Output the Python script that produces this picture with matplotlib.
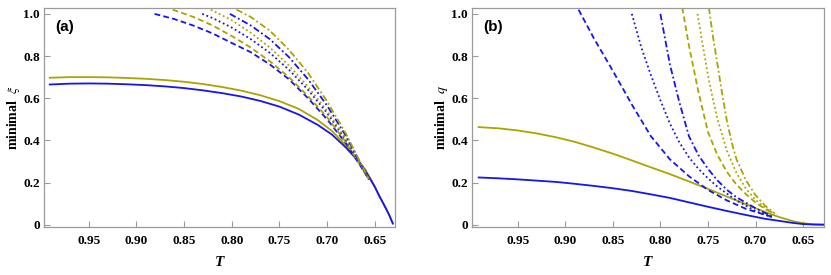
import matplotlib
matplotlib.use("Agg")
import matplotlib.pyplot as plt

# ---------------- data: panel (a) minimal xi ----------------
a_solid_T = [0.991, 0.97, 0.95, 0.93, 0.91, 0.89, 0.87, 0.85, 0.83, 0.81, 0.79, 0.77, 0.75,
             0.73, 0.71, 0.695, 0.68, 0.67, 0.66, 0.65, 0.645, 0.64, 0.635, 0.631]
a_yellow_solid = [0.697, 0.700, 0.700, 0.699, 0.696, 0.692, 0.686, 0.678, 0.667, 0.653, 0.636, 0.614, 0.586,
                  0.550, 0.497, 0.445, 0.375, 0.322, 0.262, 0.183, 0.136, 0.093, 0.048, 0.008]
a_blue_solid = [0.665, 0.669, 0.670, 0.669, 0.666, 0.662, 0.656, 0.648, 0.637, 0.624, 0.608, 0.587, 0.560,
                0.523, 0.474, 0.428, 0.365, 0.315, 0.257, 0.180, 0.134, 0.092, 0.048, 0.005]

a_blue_dashed_T = [0.881, 0.86, 0.84, 0.82, 0.80, 0.78, 0.76, 0.74, 0.72, 0.70, 0.68, 0.656]
a_blue_dashed = [1.0, 0.975, 0.944, 0.907, 0.862, 0.818, 0.76, 0.69, 0.60, 0.50, 0.385, 0.215]
a_yellow_dashed_T = [0.862, 0.84, 0.82, 0.80, 0.78, 0.76, 0.74, 0.72, 0.70, 0.68, 0.656]
a_yellow_dashed = [1.02, 0.985, 0.945, 0.895, 0.84, 0.775, 0.70, 0.61, 0.51, 0.39, 0.215]
a_blue_dotted_T = [0.831, 0.82, 0.80, 0.78, 0.76, 0.74, 0.72, 0.70, 0.68, 0.656]
a_blue_dotted = [1.0, 0.98, 0.935, 0.88, 0.815, 0.735, 0.64, 0.53, 0.40, 0.215]
a_yellow_dotted_T = [0.822, 0.80, 0.78, 0.76, 0.74, 0.72, 0.70, 0.68, 0.656]
a_yellow_dotted = [1.02, 0.97, 0.91, 0.84, 0.755, 0.655, 0.54, 0.405, 0.215]
a_blue_dashdot_T = [0.802, 0.78, 0.76, 0.74, 0.72, 0.70, 0.68, 0.656]
a_blue_dashdot = [1.0, 0.945, 0.88, 0.795, 0.69, 0.565, 0.42, 0.215]
a_yellow_dashdot_T = [0.795, 0.78, 0.76, 0.74, 0.72, 0.70, 0.68, 0.656]
a_yellow_dashdot = [1.02, 0.985, 0.92, 0.83, 0.72, 0.585, 0.43, 0.215]

# ---------------- data: panel (b) minimal q ----------------
b_solid_T = [0.991, 0.97, 0.95, 0.93, 0.91, 0.89, 0.87, 0.85, 0.83, 0.81, 0.79, 0.77, 0.75,
             0.73, 0.71, 0.69, 0.675, 0.66, 0.65, 0.64, 0.628]
b_yellow_solid = [0.463, 0.457, 0.447, 0.433, 0.415, 0.393, 0.366, 0.337, 0.305, 0.272, 0.240, 0.205, 0.170,
                  0.133, 0.097, 0.060, 0.036, 0.016, 0.007, 0.002, 0.0]
b_blue_solid = [0.224, 0.220, 0.215, 0.209, 0.203, 0.194, 0.184, 0.173, 0.160, 0.144, 0.127, 0.106, 0.085,
                0.065, 0.046, 0.028, 0.018, 0.008, 0.003, 0.001, 0.0]

b_blue_dashed_T = [0.886, 0.87, 0.85, 0.83, 0.81, 0.79, 0.77, 0.75, 0.73, 0.71, 0.69, 0.683]
b_blue_dashed = [1.02, 0.885, 0.73, 0.57, 0.42, 0.31, 0.23, 0.165, 0.115, 0.075, 0.047, 0.038]
b_blue_dotted_T = [0.83, 0.82, 0.81, 0.80, 0.79, 0.78, 0.77, 0.76, 0.75, 0.74, 0.72, 0.70, 0.683]
b_blue_dotted = [1.0, 0.84, 0.71, 0.59, 0.48, 0.39, 0.32, 0.265, 0.22, 0.18, 0.115, 0.065, 0.035]
b_blue_dashdot_T = [0.80, 0.79, 0.78, 0.77, 0.76, 0.75, 0.74, 0.73, 0.72, 0.70, 0.683]
b_blue_dashdot = [1.0, 0.76, 0.58, 0.42, 0.33, 0.265, 0.21, 0.165, 0.13, 0.078, 0.04]
b_yellow_dashed_T = [0.777, 0.77, 0.76, 0.75, 0.74, 0.73, 0.72, 0.71, 0.70, 0.69, 0.68]
b_yellow_dashed = [1.03, 0.85, 0.63, 0.44, 0.33, 0.25, 0.19, 0.145, 0.105, 0.075, 0.05]
b_yellow_dotted_T = [0.761, 0.755, 0.75, 0.745, 0.74, 0.73, 0.72, 0.71, 0.70, 0.69, 0.68]
b_yellow_dotted = [1.0, 0.84, 0.71, 0.60, 0.50, 0.35, 0.245, 0.17, 0.118, 0.08, 0.05]
b_yellow_dashdot_T = [0.749, 0.745, 0.74, 0.735, 0.73, 0.725, 0.72, 0.71, 0.70, 0.69, 0.68]
b_yellow_dashdot = [1.03, 0.90, 0.76, 0.62, 0.49, 0.39, 0.31, 0.21, 0.14, 0.09, 0.055]

x_ticks = [0.95, 0.90, 0.85, 0.80, 0.75, 0.70, 0.65]
x_ticklabels = ["0.95", "0.90", "0.85", "0.80", "0.75", "0.70", "0.65"]
y_ticks = [0, 0.2, 0.4, 0.6, 0.8, 1.0]
y_ticklabels = ["0", "0.2", "0.4", "0.6", "0.8", "1.0"]

BLUE = "#1414f5"
YELLOW = "#aaa400"
GRAY = "#9a9a9a"
LW = 1.3
DASHED = (0, (3.2, 1.8))
DOTTED = (0, (1.0, 1.5))
DASHDOT = (0, (3.6, 1.5, 1.0, 1.5))

plt.rcParams["mathtext.fontset"] = "stix"

fig = plt.figure(figsize=(8.31, 2.75), dpi=100)
ax_a = fig.add_axes([0.053, 0.1745, 0.422, 0.7965])
ax_b = fig.add_axes([0.568, 0.1745, 0.4236, 0.7965])

def style(ax, xlim, label, ylabel):
    ax.set_xlim(*xlim)
    ax.set_ylim(-0.011, 1.028)
    ax.set_xticks(x_ticks)
    ax.set_xticklabels(x_ticklabels)
    ax.set_yticks(y_ticks)
    ax.set_yticklabels(y_ticklabels)
    for s in ax.spines.values():
        s.set_color(GRAY)
        s.set_linewidth(0.9)
    ax.tick_params(direction="in", color=GRAY, length=4, width=0.8)
    ax.tick_params(axis="x", pad=6)
    ax.tick_params(axis="y", pad=3)
    for t in ax.get_xticklabels() + ax.get_yticklabels():
        t.set_fontfamily("Liberation Serif")
        t.set_fontweight("bold")
        t.set_fontsize(9.5)
    ax.set_xlabel("T", fontsize=11, family="Liberation Serif", fontstyle="italic",
                  fontweight="bold", labelpad=6)
    ax.set_ylabel(ylabel, fontsize=10, family="Liberation Serif", fontweight="bold", labelpad=1)
    ax.text(0.032, 0.915, label, transform=ax.transAxes, fontsize=11,
            family="Liberation Sans", fontweight="bold", va="center", ha="left")

kw = dict(lw=LW, clip_on=True)
ax_a.plot(a_solid_T, a_yellow_solid, color=YELLOW, **kw)
ax_a.plot(a_solid_T, a_blue_solid, color=BLUE, **kw)
ax_a.plot(a_blue_dashed_T, a_blue_dashed, color=BLUE, ls=DASHED, **kw)
ax_a.plot(a_yellow_dashed_T, a_yellow_dashed, color=YELLOW, ls=DASHED, **kw)
ax_a.plot(a_blue_dotted_T, a_blue_dotted, color=BLUE, ls=DOTTED, **kw)
ax_a.plot(a_yellow_dotted_T, a_yellow_dotted, color=YELLOW, ls=DOTTED, **kw)
ax_a.plot(a_blue_dashdot_T, a_blue_dashdot, color=BLUE, ls=DASHDOT, **kw)
ax_a.plot(a_yellow_dashdot_T, a_yellow_dashdot, color=YELLOW, ls=DASHDOT, **kw)

ax_b.plot(b_solid_T, b_yellow_solid, color=YELLOW, **kw)
ax_b.plot(b_solid_T, b_blue_solid, color=BLUE, **kw)
ax_b.plot(b_blue_dashed_T, b_blue_dashed, color=BLUE, ls=DASHED, **kw)
ax_b.plot(b_blue_dotted_T, b_blue_dotted, color=BLUE, ls=DOTTED, **kw)
ax_b.plot(b_blue_dashdot_T, b_blue_dashdot, color=BLUE, ls=DASHDOT, **kw)
ax_b.plot(b_yellow_dashed_T, b_yellow_dashed, color=YELLOW, ls=DASHED, **kw)
ax_b.plot(b_yellow_dotted_T, b_yellow_dotted, color=YELLOW, ls=DOTTED, **kw)
ax_b.plot(b_yellow_dashdot_T, b_yellow_dashdot, color=YELLOW, ls=DASHDOT, **kw)

style(ax_a, (0.997, 0.629), "(a)", r"minimal  $\xi$")
style(ax_b, (0.998, 0.628), "(b)", r"minimal  $q$")

fig.savefig("out.png", dpi=100)
